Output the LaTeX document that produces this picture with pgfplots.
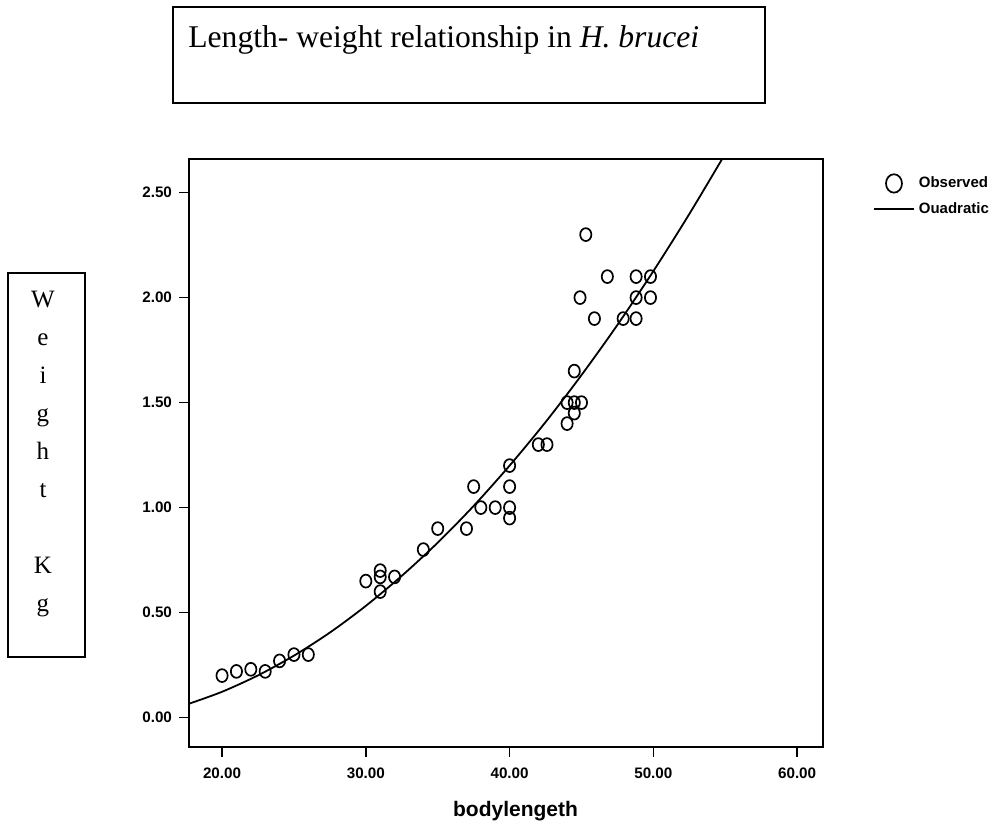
\documentclass[border=0pt]{standalone}
\usepackage{fontspec}
\setmainfont{Liberation Serif}
\setsansfont{Liberation Sans}
\usepackage{pgfplots}
\pgfplotsset{compat=1.18}
\pgfplotsset{
  obslegend/.style={legend image code/.code={\draw[##1, mark size=4pt] plot coordinates {(10pt,0pt)};}},
  linelegend/.style={legend image code/.code={\draw[##1] (0pt,0pt) -- (20pt,0pt);}},
}

\begin{document}
\begin{tikzpicture}
\useasboundingbox (-94.5pt,-41.5pt) rectangle (401.5pt,373.5pt);

% title box
\draw[line width=0.8pt] (-8pt,322pt) rectangle (288pt,370pt);
\node[anchor=base west, inner sep=0pt, font=\fontsize{15.8}{18}\selectfont] at (-0.5pt,349.5pt)
  {Length- weight relationship in \textit{H. brucei}};

% y label box
\draw[line width=0.8pt] (-90.5pt,45pt) rectangle (-52pt,237pt);
\node[anchor=north, inner sep=0pt, align=center, font=\fontsize{12.5}{19}\selectfont] at (-73pt,228pt)
  {W\\e\\i\\g\\h\\t\\[19pt]K\\g};

\begin{axis}[
  at={(0pt,0pt)}, anchor=south west,
  scale only axis, width=317pt, height=294pt,
  xmin=17.7, xmax=61.8, ymin=-0.14, ymax=2.66,
  axis line style={line width=1pt},
  xtick={20,30,40,50,60},
  ytick={0,0.5,1,1.5,2,2.5},
  tick pos=left, tick align=outside,
  major tick length=5pt,
  tick style={black, line width=0.8pt},
  ticklabel style={font=\sffamily\bfseries\fontsize{7.6}{9}\selectfont},
  xticklabel style={yshift=-2pt},
  /pgf/number format/assume math mode=true,
  /pgf/number format/fixed,
  /pgf/number format/fixed zerofill,
  /pgf/number format/precision=2,
  xlabel={bodylengeth},
  xlabel style={font=\sffamily\bfseries\fontsize{10.5}{12}\selectfont,
    at={(axis description cs:0.515,0)}, anchor=center, yshift=-32pt},
  legend style={at={(axis description cs:1.079,0.977)}, anchor=north west,
    draw=none, fill=none, inner sep=0pt, outer sep=0pt,
    font=\sffamily\bfseries\fontsize{7.5}{9}\selectfont, row sep=2pt},
  legend cell align=left,
]
\addplot[only marks, mark=o, mark size=2.8pt,
  mark options={line width=0.85pt, yscale=1.15}, obslegend]
coordinates {
  (20,0.20) (21,0.22) (22,0.23) (23,0.22) (24,0.27) (25,0.30) (26,0.30)
  (30,0.65) (31,0.70) (31,0.67) (31,0.60) (32,0.67)
  (34,0.80) (35,0.90) (37,0.90) (37.5,1.10) (38,1.00) (39,1.00)
  (40,1.20) (40,1.10) (40,1.00) (40,0.95)
  (42,1.30) (42.6,1.30)
  (44,1.40) (44,1.50) (44.5,1.45) (44.5,1.50) (44.5,1.65) (45,1.50)
  (44.9,2.00) (45.3,2.30) (45.9,1.90) (46.8,2.10) (47.9,1.90)
  (48.8,1.90) (48.8,2.00) (48.8,2.10) (49.8,2.00) (49.8,2.10)
};
\addlegendentry{Observed}

% fitted quadratic
\addplot[black, line width=0.9pt, smooth, no marks, linelegend]
coordinates {
  (17.7,0.066) (20,0.123) (22.5,0.201) (25,0.295) (27.5,0.405)
  (30,0.532) (32.5,0.675) (35,0.833) (37.5,1.008) (40,1.200)
  (42.5,1.407) (45,1.631) (47.5,1.870) (50,2.126) (52.5,2.398)
  (55,2.685)
};
\addlegendentry{Ouadratic}
\end{axis}
\end{tikzpicture}
\end{document}
